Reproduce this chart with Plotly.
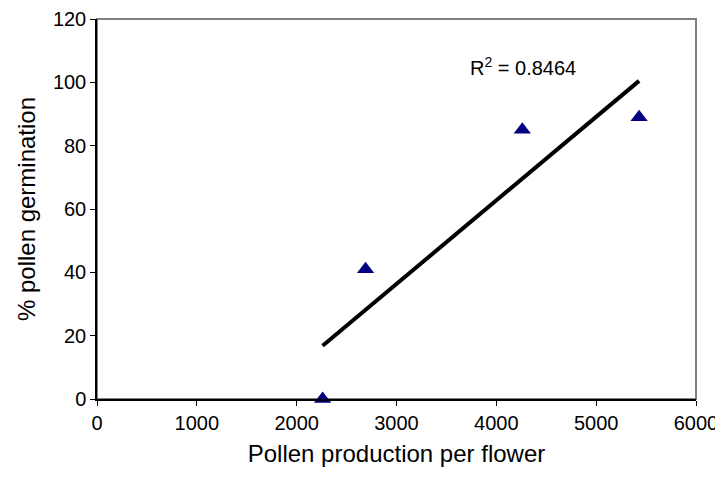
import numpy as np
import plotly.graph_objects as go

pollen_production = [2260, 2690, 4260, 5430]
germination_pct = [0, 41, 85, 89]
r_squared_shown = 0.8464
x_ticks = [0, 1000, 2000, 3000, 4000, 5000, 6000]
y_ticks = [0, 20, 40, 60, 80, 100, 120]

xs = np.array(pollen_production, dtype=float)
ys = np.array(germination_pct, dtype=float)
slope, intercept = np.polyfit(xs, ys, 1)
line_x = [xs.min(), xs.max()]
line_y = [slope * v + intercept for v in line_x]

fig = go.Figure()
fig.add_trace(go.Scatter(x=line_x, y=line_y, mode="lines",
                         line=dict(color="black", width=4), showlegend=False))
fig.add_trace(go.Scatter(x=pollen_production, y=germination_pct, mode="markers",
                         marker=dict(symbol="triangle-up", size=15, color="#000080"),
                         showlegend=False, cliponaxis=False))

FAM = "Liberation Sans, Arial"
fig.add_annotation(x=3717, y=100.5, xref="x", yref="y", xanchor="left", yanchor="bottom",
                   text=f"R<sup>2</sup> = {r_squared_shown:.4f}", showarrow=False,
                   font=dict(family=FAM, size=20, color="black"))

font = dict(family=FAM, size=20, color="black")
# page body has an 8px margin; compensate so the plot sits where the reference has it
fig.update_layout(
    width=715, height=477,
    margin=dict(l=89, r=27, t=11, b=86),
    paper_bgcolor="white", plot_bgcolor="white",
    font=font,
    shapes=[dict(type="rect", xref="paper", yref="paper", x0=0, y0=0, x1=1, y1=1,
                 line=dict(color="#808080", width=2), layer="below")],
)
fig.update_xaxes(range=[0, 6000], tickvals=x_ticks, ticks="outside", ticklen=5,
                 tickcolor="black", showgrid=False, zeroline=False, automargin=False,
                 ticklabeloverflow="allow",
                 showline=True, linecolor="black", linewidth=1.5,
                 title=dict(text="Pollen production per flower", font=dict(family=FAM, size=24), standoff=12),
                 tickfont=font)
fig.update_yaxes(range=[0, 120], tickvals=y_ticks, ticks="outside", ticklen=5,
                 tickcolor="black", showgrid=False, zeroline=False, automargin=False,
                 ticklabeloverflow="allow",
                 showline=True, linecolor="black", linewidth=1.5,
                 title=dict(text="% pollen germination", font=dict(family=FAM, size=24), standoff=10),
                 tickfont=font)

fig.write_html("out.html")
